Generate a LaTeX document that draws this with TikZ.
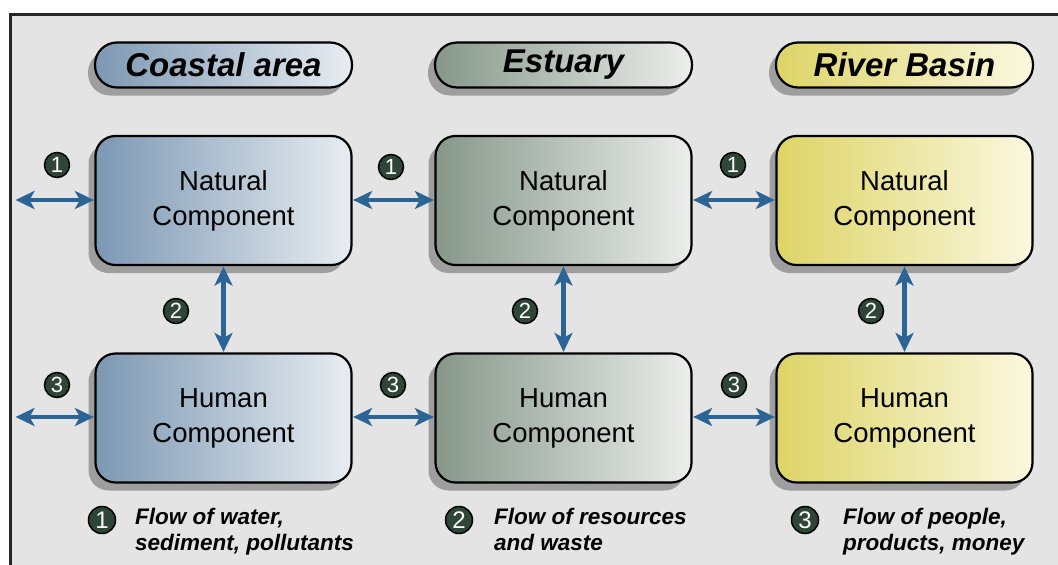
\documentclass[tikz,border=0pt]{standalone}
\usepackage{fontspec}
\setmainfont{Liberation Sans}
\usetikzlibrary{arrows.meta,shadows}
\definecolor{framebg}{HTML}{E4E4E4}
\definecolor{arrowblue}{HTML}{2B6495}
\definecolor{badgegreen}{HTML}{2E4537}
\definecolor{coastL}{HTML}{7C98B3}
\definecolor{coastR}{HTML}{E8EDF2}
\definecolor{estL}{HTML}{86978A}
\definecolor{estR}{HTML}{ECEEEC}
\definecolor{rivL}{HTML}{DDD466}
\definecolor{rivR}{HTML}{FBF8E0}
\tikzset{
  myshadow/.style={drop shadow={shadow xshift=-7pt, shadow yshift=-8pt, opacity=0.5, fill=black!65}},
  compbox/.style={draw=black, line width=2.2pt, rounded corners=20pt, minimum width=256pt, minimum height=129pt, align=center, font=\fontsize{27.5}{35}\selectfont, myshadow},
  titlebox/.style={draw=black, line width=2.2pt, rounded corners=22pt, minimum width=257pt, minimum height=45pt, font=\fontsize{33}{36}\selectfont\bfseries\itshape, myshadow},
  coast/.style={left color=coastL, right color=coastR},
  estu/.style={left color=estL, right color=estR},
  river/.style={left color=rivL, right color=rivR},
  flow/.style={arrowblue, line width=4.5pt, {Stealth[length=19pt,width=18pt,inset=5pt]}-{Stealth[length=19pt,width=18pt,inset=5pt]}, shorten <=0.5pt, shorten >=0.5pt},
  badge/.style={circle, draw=black, line width=1.5pt, fill=badgegreen, text=white, minimum size=25pt, inner sep=0pt, font=\fontsize{22}{22}\selectfont},
  lbadge/.style={badge, minimum size=27pt, font=\fontsize{24}{24}\selectfont},
  legend/.style={anchor=north west, align=left, font=\fontsize{22.5}{26}\selectfont\bfseries\itshape, inner sep=0pt}
}
\begin{document}
\begin{tikzpicture}[x=1pt,y=-1pt]
\useasboundingbox (0,0) rectangle (1058,565);
\fill[white] (0,0) rectangle (1058,565);
\draw[fill=framebg, line width=3pt, draw=black!85] (10,14) -- (1062,14) -- (1062,570) -- (10,570) -- cycle;

% titles
\node[titlebox, coast] (tc) at (223.5,65) {Coastal area};
\node[titlebox, estu] (te) at (563.5,65) {Estuary};
\node[titlebox, river] (tr) at (904.5,65) {River Basin};

% component boxes
\node[compbox, coast] (cn) at (223.5,200.5) {Natural\\Component};
\node[compbox, coast] (ch) at (223.5,418) {Human\\Component};
\node[compbox, estu] (en) at (563.5,200.5) {Natural\\Component};
\node[compbox, estu] (eh) at (563.5,418) {Human\\Component};
\node[compbox, river] (rn) at (904.5,200.5) {Natural\\Component};
\node[compbox, river] (rh) at (904.5,418) {Human\\Component};

% free ends
\coordinate (xn) at (15,200);
\coordinate (xh) at (15,417);

% horizontal arrows
\draw[flow] (xn) -- (cn.west |- xn);
\draw[flow] (xh) -- (ch.west |- xh);
\draw[flow] (cn.east |- xn) -- (en.west |- xn);
\draw[flow] (ch.east |- xh) -- (eh.west |- xh);
\draw[flow] (en.east |- xn) -- (rn.west |- xn);
\draw[flow] (eh.east |- xh) -- (rh.west |- xh);

% vertical arrows
\draw[flow] (cn.south) -- (ch.north);
\draw[flow] (en.south) -- (eh.north);
\draw[flow] (rn.south) -- (rh.north);

% badges
\node[badge] (b1a) at (57,165) {1};
\node[badge] (b1b) at (391,167) {1};
\node[badge] (b1c) at (733,165) {1};
\node[badge] (b3a) at (57,385) {3};
\node[badge] (b3b) at (393,385) {3};
\node[badge] (b3c) at (734,385) {3};
\node[badge] (b2a) at (176,311) {2};
\node[badge] (b2b) at (525,311) {2};
\node[badge] (b2c) at (871,311) {2};

% legend
\node[lbadge] (l1) at (102,520) {1};
\node[legend] (t1) at (135,508) {Flow of water,\\sediment, pollutants};
\node[lbadge] (l2) at (459,520) {2};
\node[legend] (t2) at (494,508) {Flow of resources\\and waste};
\node[lbadge] (l3) at (805,520) {3};
\node[legend] (t3) at (843,508) {Flow of people,\\products, money};
\end{tikzpicture}
\end{document}
